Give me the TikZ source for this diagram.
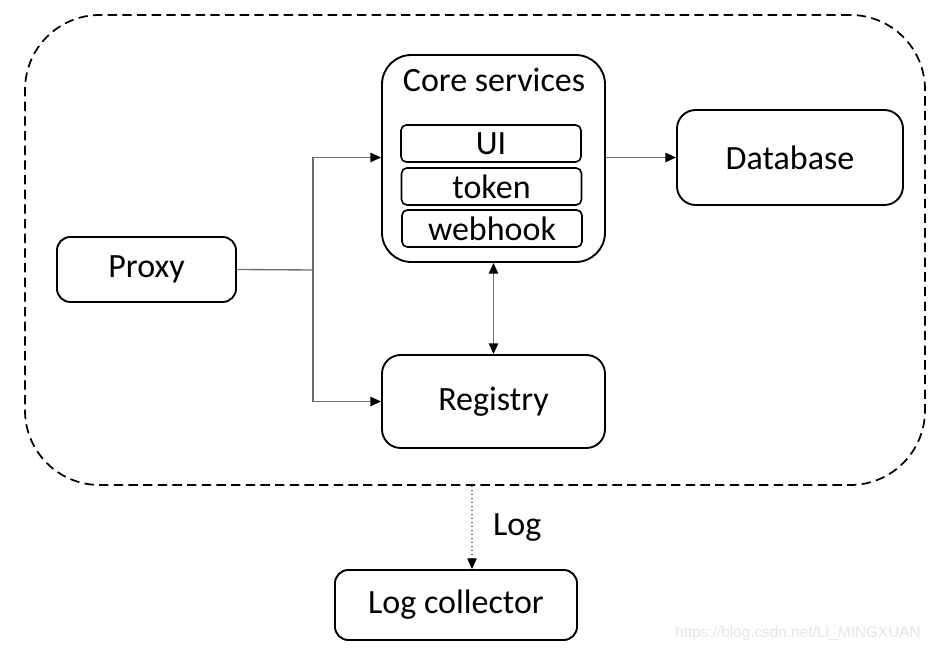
\documentclass[tikz,border=0pt]{standalone}
\usepackage{fontspec}
\setmainfont{Carlito}
\newfontfamily\markfont{Liberation Sans}
\usetikzlibrary{arrows.meta}
\definecolor{linegray}{RGB}{110,110,110}
\definecolor{markgray}{RGB}{228,228,228}

\begin{document}
\begin{tikzpicture}[x=0.75pt, y=-0.75pt,
    box/.style={draw, line width=1.4pt, rounded corners=14pt, inner sep=0pt,
        font=\fontsize{25.5}{30}\selectfont},
    subbox/.style={draw, line width=1.2pt, rounded corners=4pt, inner sep=0pt,
        minimum width=135pt, minimum height=27.75pt, font=\fontsize{25.5}{30}\selectfont},
    link/.style={draw=linegray, line width=1pt, -{Triangle[length=8pt, width=7pt, color=black]}}]
    \useasboundingbox (0,0) rectangle (936,655);
    % outer frame
    \node[draw, line width=1.3pt, dash pattern=on 7pt off 4pt, rounded corners=56pt,
        minimum width=675pt, minimum height=352.5pt] (frame) at (475,250) {};
    % core services with its parts
    \node[box, rounded corners=22pt, minimum width=167.25pt, minimum height=155.25pt] (core) at (493.5,158.5) {};
    \node[font=\fontsize{25.5}{30}\selectfont] (coretitle) at (494,80) {Core services};
    \node[subbox] (ui) at (491,143.5) {UI};
    \node[subbox] (token) at (491.5,186.5) {token};
    \node[subbox] (webhook) at (492,228.5) {webhook};
    % other components
    \node[box, minimum width=169.5pt, minimum height=71.25pt] (db) at (790,157.5) {Database};
    \node[box, rounded corners=10pt, minimum width=134.25pt, minimum height=48.75pt] (proxy) at (146.5,269.5) {Proxy};
    \node[box, minimum width=167.25pt, minimum height=69.75pt] (registry) at (493.5,401.5) {Registry};
    \node[box, rounded corners=10pt, minimum width=181.5pt, minimum height=52.5pt] (logc) at (456,605) {Log collector};
    \coordinate (split) at (313,270);
    % connectors
    \draw[draw=linegray, line width=1pt] (proxy.east) -- (split);
    \draw[link] (split) |- (core.west |- db.west);
    \draw[link] (split) |- (registry.west);
    \draw[link] (core.east |- db.west) -- (db.west);
    \draw[link, {Triangle[length=8pt, width=7pt, color=black]}-{Triangle[length=8pt, width=7pt, color=black]}] (registry.north) -- (core.south);
    \draw[link, dotted, line width=1.1pt] (frame.south -| 472,0) -- (logc.north -| 472,0)
        node[midway, right=12pt, font=\fontsize{25.5}{30}\selectfont] (loglabel) {Log};
    % watermark
    \node[font=\markfont\fontsize{11.5}{14}\selectfont, text=markgray] (mark) at (798,634) {https://blog.csdn.net/LI\_MINGXUAN};
\end{tikzpicture}
\end{document}
